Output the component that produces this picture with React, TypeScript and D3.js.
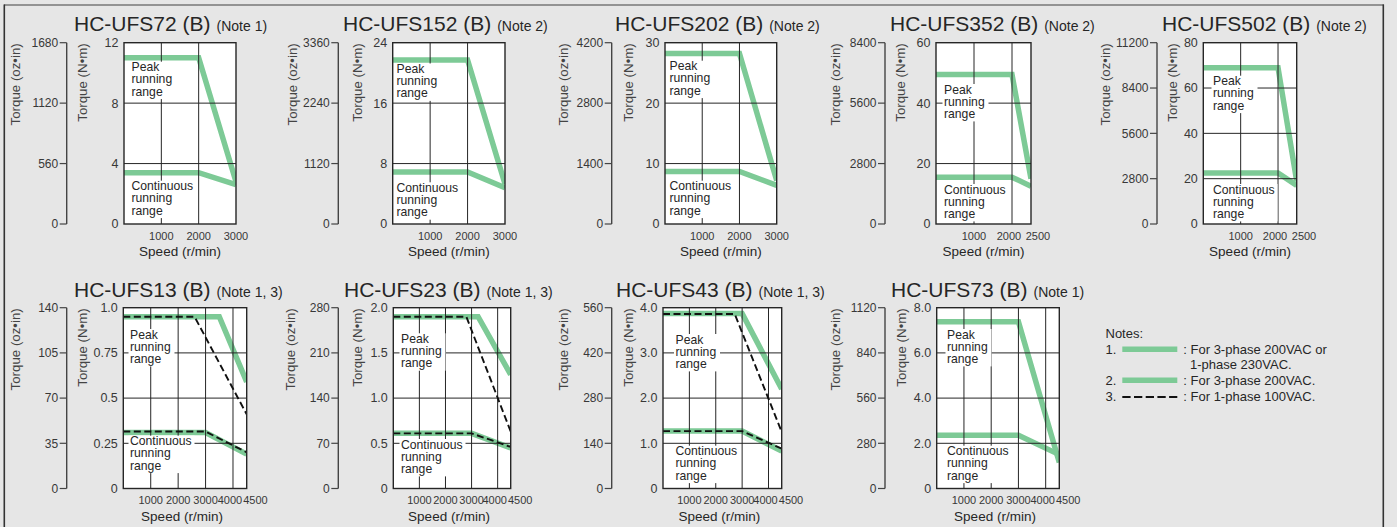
import React from "react";
import * as d3 from "d3";

// ---------- data ----------
const modelNames = [
  "HC-UFS72 (B)", "HC-UFS152 (B)", "HC-UFS202 (B)", "HC-UFS352 (B)", "HC-UFS502 (B)",
  "HC-UFS13 (B)", "HC-UFS23 (B)", "HC-UFS43 (B)", "HC-UFS73 (B)",
];
const noteRefs = [
  "(Note 1)", "(Note 2)", "(Note 2)", "(Note 2)", "(Note 2)",
  "(Note 1, 3)", "(Note 1, 3)", "(Note 1, 3)", "(Note 1)",
];
const nmTicks = [
  [0, 4, 8, 12], [0, 8, 16, 24], [0, 10, 20, 30], [0, 20, 40, 60], [0, 20, 40, 60, 80],
  [0, 0.25, 0.5, 0.75, 1.0], [0, 0.5, 1.0, 1.5, 2.0], [0, 1, 2, 3, 4], [0, 2, 4, 6, 8],
];
const nmTickLabels = [
  ["0", "4", "8", "12"], ["0", "8", "16", "24"], ["0", "10", "20", "30"], ["0", "20", "40", "60"],
  ["0", "20", "40", "60", "80"], ["0", "0.25", "0.5", "0.75", "1.0"], ["0", "0.5", "1.0", "1.5", "2.0"],
  ["0", "1.0", "2.0", "3.0", "4.0"], ["0", "2.0", "4.0", "6.0", "8.0"],
];
const ozTicks = [
  [0, 560, 1120, 1680], [0, 1120, 2240, 3360], [0, 1400, 2800, 4200], [0, 2800, 5600, 8400],
  [0, 2800, 5600, 8400, 11200], [0, 35, 70, 105, 140], [0, 70, 140, 210, 280],
  [0, 140, 280, 420, 560], [0, 280, 560, 840, 1120],
];
const speedTicks = [
  [1000, 2000, 3000], [1000, 2000, 3000], [1000, 2000, 3000], [1000, 2000, 2500], [1000, 2000, 2500],
  [1000, 2000, 3000, 4000, 4500], [1000, 2000, 3000, 4000, 4500],
  [1000, 2000, 3000, 4000, 4500], [1000, 2000, 3000, 4000, 4500],
];
// peak running range, 3-phase 200VAC (green)
const peak200: number[][][] = [
  [[0, 11.0], [2000, 11.0], [3000, 2.8]],
  [[0, 21.7], [2000, 21.7], [3000, 5.3]],
  [[0, 28.2], [2000, 28.2], [3000, 7.2]],
  [[0, 49.5], [2000, 49.5], [2500, 15.0]],
  [[0, 69.0], [2000, 69.0], [2500, 19.0]],
  [[0, 0.95], [3500, 0.95], [4500, 0.59]],
  [[0, 1.9], [3250, 1.9], [4500, 1.26]],
  [[0, 3.87], [3000, 3.87], [4500, 2.2]],
  [[0, 7.38], [3000, 7.38], [4500, 1.15]],
];
// continuous running range, 3-phase 200VAC (green)
const cont200: number[][][] = [
  [[0, 3.4], [2000, 3.4], [3000, 2.6]],
  [[0, 6.9], [2000, 6.9], [3000, 4.8]],
  [[0, 8.7], [2000, 8.7], [3000, 6.4]],
  [[0, 15.5], [2000, 15.5], [2500, 12.5]],
  [[0, 22.5], [2000, 22.5], [2500, 17.0]],
  [[0, 0.31], [3000, 0.31], [4500, 0.19]],
  [[0, 0.61], [3000, 0.61], [4500, 0.45]],
  [[0, 1.27], [3000, 1.27], [4500, 0.83]],
  [[0, 2.36], [3000, 2.36], [4500, 1.5]],
];
// 1-phase 100VAC (dashed)
const peak100: (number[][] | null)[] = [
  null, null, null, null, null,
  [[0, 0.95], [2600, 0.95], [4500, 0.41]],
  [[0, 1.9], [2800, 1.9], [4500, 0.63]],
  [[0, 3.86], [2720, 3.86], [4500, 1.25]],
  null,
];
const cont100: (number[][] | null)[] = [
  null, null, null, null, null,
  [[0, 0.315], [3000, 0.315], [4500, 0.2]],
  [[0, 0.61], [3000, 0.61], [4500, 0.46]],
  [[0, 1.27], [3000, 1.27], [4500, 0.88]],
  null,
];
const legendNums = ["1.", "2.", "3."];
const legendTexts = [[": For 3-phase 200VAC or", "1-phase 230VAC."], [": For 3-phase 200VAC."], [": For 1-phase 100VAC."]];

// ---------- layout ----------
const rows = [
  { titleY: 31, top: 42.7, bottom: 224, tickY: 240, speedY: 256, speedDx: 0, minGap: 29 },
  { titleY: 296.5, top: 307.7, bottom: 488.5, tickY: 504, speedY: 520.5, speedDx: -3, minGap: 25.5 },
];
const layout = [
  { row: 0, axisX: 66.7, ozX: 20, nmX: 86.6, left: 124, right: 236, titleX: 74, lx: 131.5, pY: 72.7, cY: 191.7 },
  { row: 0, axisX: 338.3, ozX: 296.6, nmX: 361.6, left: 392.7, right: 505, titleX: 343, lx: 396.5, pY: 74.5, cY: 193.3 },
  { row: 0, axisX: 611.7, ozX: 568.3, nmX: 633.3, left: 665, right: 776.7, titleX: 615, lx: 669.5, pY: 71.7, cY: 191.7 },
  { row: 0, axisX: 885, ozX: 840, nmX: 905, left: 936, right: 1031, titleX: 890, lx: 944, pY: 95, cY: 195 },
  { row: 0, axisX: 1157, ozX: 1110, nmX: 1177.3, left: 1203.3, right: 1296.7, titleX: 1162, lx: 1213, pY: 86.7, cY: 195 },
  { row: 1, axisX: 66.7, ozX: 20, nmX: 86.6, left: 123.3, right: 246.7, titleX: 74, lx: 130, pY: 340, cY: 446.7 },
  { row: 1, axisX: 338.3, ozX: 295, nmX: 361.6, left: 393.3, right: 510.7, titleX: 344, lx: 401, pY: 344.3, cY: 450 },
  { row: 1, axisX: 611.7, ozX: 568.3, nmX: 633.3, left: 663, right: 781.7, titleX: 616, lx: 675.5, pY: 345, cY: 456.7 },
  { row: 1, axisX: 885, ozX: 840, nmX: 905.6, left: 936.7, right: 1059.3, titleX: 891, lx: 947, pY: 340, cY: 456.7 },
];

const FONT = "'Liberation Sans', Arial, Helvetica, sans-serif";
const GREEN = "#7dca96";
const INK = "#262626";
const TXT = "#383838";
const LH = 12.2;

function TextBlock({ x, y, lines, w }: { x: number; y: number; lines: string[]; w: number }) {
  const y0 = y - 1.5;
  return (
    <g>
      <rect x={x - 1.5} y={y0 - 9.5} width={w} height={LH * (lines.length - 1) + 13} fill="#fff" />
      {lines.map((l, k) => (
        <text key={k} x={x} y={y0 + k * LH} fontSize={12.2} fill={INK} fontFamily={FONT}>{l}</text>
      ))}
    </g>
  );
}

function Chart({ i }: { i: number }) {
  const L = layout[i];
  const R = rows[L.row];
  const yMax = d3.max(nmTicks[i]) as number;
  const ozMax = d3.max(ozTicks[i]) as number;
  const xMax = d3.max(speedTicks[i]) as number;
  const x = d3.scaleLinear().domain([0, xMax]).range([L.left, L.right]);
  const y = d3.scaleLinear().domain([0, yMax]).range([R.bottom, R.top]);
  const yOz = d3.scaleLinear().domain([0, ozMax]).range([R.bottom, R.top]);
  const line = d3.line<number[]>().x((d) => x(d[0])).y((d) => y(d[1]));
  const clipId = `clip-${i}`;

  // tick label positions: a crowded last label is nudged apart from its neighbour
  const tickPos: number[] = speedTicks[i].map((t) => x(t));
  for (let k = 1; k < tickPos.length; k++) {
    if (tickPos[k] - tickPos[k - 1] < R.minGap) {
      tickPos[k - 1] -= 3;
      tickPos[k] = tickPos[k - 1] + R.minGap;
    }
  }

  const gridX = speedTicks[i].filter((t) => t < xMax);
  const gridY = nmTicks[i].filter((t) => t > 0 && t < yMax);

  return (
    <g fontFamily={FONT}>
      <defs>
        <clipPath id={clipId}>
          <rect x={L.left} y={R.top} width={L.right - L.left} height={R.bottom - R.top} />
        </clipPath>
      </defs>
      {/* title */}
      <text x={L.titleX} y={R.titleY} fontSize={21} fill={INK}>
        {modelNames[i]}
        <tspan fontSize={14} dx={6}>{noteRefs[i]}</tspan>
      </text>
      {/* oz-in axis */}
      <line x1={L.axisX} x2={L.axisX} y1={yOz(0)} y2={yOz(ozMax)} stroke="#444" strokeWidth={1.4} />
      {ozTicks[i].map((t) => (
        <g key={t}>
          <line x1={L.axisX - 7} x2={L.axisX} y1={yOz(t)} y2={yOz(t)} stroke="#444" strokeWidth={1.2} />
          <text x={L.axisX - 8.5} y={yOz(t)} dy="0.35em" textAnchor="end" fontSize={12} fill={TXT}>{t}</text>
        </g>
      ))}
      <text transform={`translate(${L.ozX},${R.top + 0.5}) rotate(-90)`} textAnchor="end" fontSize={13.3} fill="#444">
        Torque (oz•in)
      </text>
      <text transform={`translate(${L.nmX},${R.top + 0.5}) rotate(-90)`} textAnchor="end" fontSize={13.3} fill="#444">
        Torque (N•m)
      </text>
      {/* N-m tick labels */}
      {nmTicks[i].map((t, k) => (
        <text key={t} x={L.left - 5.5} y={y(t)} dy="0.35em" textAnchor="end" fontSize={12.5} fill={TXT}>
          {nmTickLabels[i][k]}
        </text>
      ))}
      {/* plot area */}
      <rect x={L.left} y={R.top} width={L.right - L.left} height={R.bottom - R.top} fill="#fff" />
      <g clipPath={`url(#${clipId})`}>
        <path d={line(peak200[i]) as string} fill="none" stroke={GREEN} strokeWidth={5.5} strokeLinejoin="miter" />
        <path d={line(cont200[i]) as string} fill="none" stroke={GREEN} strokeWidth={5.5} strokeLinejoin="miter" />
      </g>
      {gridX.map((t) => (
        <line key={"gx" + t} x1={x(t)} x2={x(t)} y1={R.top} y2={R.bottom} stroke={INK} strokeWidth={1} />
      ))}
      {gridY.map((t) => (
        <line key={"gy" + t} x1={L.left} x2={L.right} y1={y(t)} y2={y(t)} stroke={INK} strokeWidth={1} />
      ))}
      <TextBlock x={L.lx} y={L.pY} lines={["Peak", "running", "range"]} w={46} />
      <TextBlock x={L.lx} y={L.cY} lines={["Continuous", "running", "range"]} w={66} />
      <g clipPath={`url(#${clipId})`}>
        {peak100[i] && (
          <path d={line(peak100[i] as number[][]) as string} fill="none" stroke="#111" strokeWidth={1.9} strokeDasharray="7,3.5" />
        )}
        {cont100[i] && (
          <path d={line(cont100[i] as number[][]) as string} fill="none" stroke="#111" strokeWidth={1.9} strokeDasharray="7,3.5" />
        )}
      </g>
      <rect x={L.left} y={R.top} width={L.right - L.left} height={R.bottom - R.top} fill="none" stroke={INK} strokeWidth={1.4} />
      {/* speed ticks */}
      {speedTicks[i].map((t, k) => (
        <text key={"t" + t} x={tickPos[k]} y={R.tickY} textAnchor="middle" fontSize={11} fill={TXT}>{t}</text>
      ))}
      <text x={(L.left + L.right) / 2 + R.speedDx} y={R.speedY} textAnchor="middle" fontSize={13.5} fill={INK}>
        Speed (r/min)
      </text>
    </g>
  );
}

function Legend() {
  const x0 = 1105.5;
  const ys = [354, 385, 400.5];
  return (
    <g fontFamily={FONT} fontSize={13} fill={INK}>
      <text x={x0} y={338}>Notes:</text>
      {legendNums.map((n, k) => (
        <g key={n}>
          <text x={x0} y={ys[k]}>{n}</text>
          {k < 2 ? (
            <line x1={1122.3} x2={1177.3} y1={ys[k] - 4.8} y2={ys[k] - 4.8} stroke={GREEN} strokeWidth={5.5} />
          ) : (
            <line x1={1122.3} x2={1177.3} y1={ys[k] - 3.5} y2={ys[k] - 3.5} stroke="#111" strokeWidth={1.9} strokeDasharray="8.3,3.4" />
          )}
          {legendTexts[k].map((t, j) => (
            <text key={j} x={j === 0 ? 1183.3 : 1190} y={ys[k] + j * 15}>{t}</text>
          ))}
        </g>
      ))}
    </g>
  );
}

export default function App() {
  return (
    <svg width={1397} height={527} style={{ position: "absolute", left: 0, top: 0, display: "block" }}>
      <rect x={0} y={0} width={1397} height={527} fill="#e6e6e6" />
      <line x1={4} x2={1384} y1={5} y2={5} stroke="#777" strokeWidth={1.5} />
      <line x1={4.3} x2={4.3} y1={4.5} y2={527} stroke="#333" strokeWidth={1.6} />
      <line x1={1383.3} x2={1383.3} y1={4.5} y2={527} stroke="#333" strokeWidth={1.6} />
      {modelNames.map((_, i) => (
        <Chart key={i} i={i} />
      ))}
      <Legend />
    </svg>
  );
}
